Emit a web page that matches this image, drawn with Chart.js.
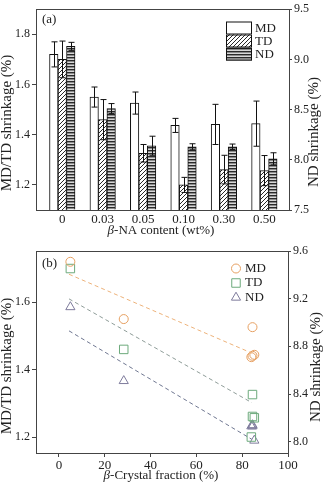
<!DOCTYPE html>
<html><head><meta charset="utf-8">
<script src="https://cdn.jsdelivr.net/npm/chart.js@4.4.1/dist/chart.umd.min.js"></script>
<style>
html,body{margin:0;padding:0;background:#fff;width:324px;height:484px;overflow:hidden}
canvas{position:absolute;left:0}
#ca{top:0}#cb{top:240px}
</style></head>
<body>
<canvas id="ca" width="324" height="240"></canvas>
<canvas id="cb" width="324" height="244"></canvas>
<script>
// ---------- data ----------
const naLabels = ['0', '0.03', '0.05', '0.10', '0.30', '0.50'];
const mdShrink = [1.72, 1.55, 1.526, 1.437, 1.441, 1.444];
const mdErr    = [0.05, 0.04, 0.044, 0.028, 0.08, 0.09];
const tdShrink = [1.70, 1.46, 1.326, 1.20, 1.261, 1.257];
const tdErr    = [0.073, 0.08, 0.035, 0.03, 0.057, 0.06];
const ndShrink = [9.13, 8.51, 8.14, 8.13, 8.13, 8.01];
const ndErr    = [0.04, 0.05, 0.095, 0.03, 0.027, 0.06];
const betaFrac = [5, 28.3, 84.5, 84, 84.5, 85.3];
const fitX  = [4.4, 84.2];
const mdFit = [1.683, 1.449];
const tdFit = [1.61, 1.302];
const ndFit = [8.93, 8.02];
const yTicksA  = [1.2, 1.4, 1.6, 1.8];
const y1TicksA = [7.5, 8.0, 8.5, 9.0, 9.5];
const xTicksB  = [0, 20, 40, 60, 80, 100];
const yTicksB  = [1.2, 1.4, 1.6];
const y1TicksB = [8.0, 8.4, 8.8, 9.2, 9.6];
const seriesNames = ['MD', 'TD', 'ND'];

// ---------- styles ----------
const SERIF = '"Liberation Serif", "Times New Roman", serif';
const INK = '#222';
const AX = '#444';
const ptColors = ['#E6A062', '#6DAA7C', '#7E7B9C'];
const fitColors = ['#EDB27A', '#8E9C98', '#6E7690'];

function makeHatch() {
  const c = document.createElement('canvas'); c.width = 4; c.height = 4;
  const x = c.getContext('2d');
  x.fillStyle = '#fff'; x.fillRect(0, 0, 4, 4);
  x.strokeStyle = '#111'; x.lineWidth = 0.9;
  x.beginPath();
  x.moveTo(0, 4); x.lineTo(4, 0);
  x.moveTo(-1, 1); x.lineTo(1, -1);
  x.moveTo(3, 5); x.lineTo(5, 3);
  x.stroke();
  return x.createPattern(c, 'repeat');
}
function makeStripes() {
  const c = document.createElement('canvas'); c.width = 4; c.height = 3;
  const x = c.getContext('2d');
  x.fillStyle = '#2a2a2a'; x.fillRect(0, 0, 4, 1);
  x.fillStyle = '#8c8c8c'; x.fillRect(0, 1, 4, 1);
  x.fillStyle = '#d8d8d8'; x.fillRect(0, 2, 4, 1);
  return x.createPattern(c, 'repeat');
}
const hatch = makeHatch();
const stripes = makeStripes();
const barFills = ['#ffffff', hatch, stripes];

function drawMixed(ctx, parts, cx, cy, size) {
  let total = 0;
  const widths = parts.map(([t, st]) => { ctx.font = st + ' ' + size + 'px ' + SERIF; const w = ctx.measureText(t).width; total += w; return w; });
  let x = cx - total / 2;
  ctx.textBaseline = 'middle'; ctx.textAlign = 'left';
  parts.forEach(([t, st], i) => { ctx.font = st + ' ' + size + 'px ' + SERIF; ctx.fillText(t, x, cy); x += widths[i]; });
}
function drawRot(ctx, text, cx, cy, size) {
  ctx.save();
  ctx.translate(cx, cy); ctx.rotate(-Math.PI / 2);
  ctx.font = size + 'px ' + SERIF; ctx.textAlign = 'center'; ctx.textBaseline = 'middle';
  ctx.fillText(text, 0, 0);
  ctx.restore();
}
function setTicks(arr) { return (s) => { s.ticks = arr.map(v => ({ value: v })); }; }

// ---------- panel (a) ----------
const errArrays = [mdErr, tdErr, ndErr];
const errorBars = {
  id: 'errorBars',
  afterDatasetsDraw(chart) {
    const ctx = chart.ctx;
    ctx.save();
    ctx.strokeStyle = '#111'; ctx.lineWidth = 1;
    chart.data.datasets.forEach((ds, di) => {
      const meta = chart.getDatasetMeta(di);
      const sc = chart.scales[ds.yAxisID];
      meta.data.forEach((bar, j) => {
        const v = ds.data[j].y, e = errArrays[di][j];
        const x = Math.round(bar.x) + 0.5;
        const yt = sc.getPixelForValue(v + e), yb = sc.getPixelForValue(v - e);
        ctx.beginPath();
        ctx.moveTo(x, yt); ctx.lineTo(x, yb);
        ctx.moveTo(x - 3, yt); ctx.lineTo(x + 3, yt);
        ctx.moveTo(x - 3, yb); ctx.lineTo(x + 3, yb);
        ctx.stroke();
      });
    });
    ctx.restore();
  }
};
const decorA = {
  id: 'decorA',
  afterDraw(chart) {
    const ctx = chart.ctx, a = chart.chartArea;
    ctx.save();
    ctx.strokeStyle = AX; ctx.lineWidth = 1;
    ctx.strokeRect(Math.round(a.left) + 0.5, Math.round(a.top) + 0.5, Math.round(a.right - a.left), Math.round(a.bottom - a.top));
    ctx.fillStyle = INK;
    ctx.font = '13px ' + SERIF; ctx.textAlign = 'left'; ctx.textBaseline = 'middle';
    ctx.fillText('(a)', 42, 20);
    // legend
    seriesNames.forEach((n, i) => {
      const y = 21.5 + i * 13;
      ctx.fillStyle = barFills[i];
      ctx.fillRect(226, y, 26, 13);
      ctx.strokeStyle = '#111';
      ctx.strokeRect(226.5, y + 0.5, 25, 12);
      ctx.fillStyle = INK;
      ctx.font = '13px ' + SERIF;
      ctx.fillText(n, 255, y + 7);
    });
    drawMixed(ctx, [['β', 'italic'], ['-NA content (wt%)', 'normal']], 161, 231, 13);
    drawRot(ctx, 'MD/TD shrinkage (%)', 7, 123, 15);
    drawRot(ctx, 'ND shrinkage (%)', 314, 132, 15);
    ctx.restore();
  }
};

const tickFont = { family: SERIF, size: 12 };
new Chart(document.getElementById('ca'), {
  type: 'bar',
  data: {
    datasets: [
      { label: 'MD', data: mdShrink.map((v, i) => ({ x: i, y: v })), yAxisID: 'y', base: 1.1, backgroundColor: barFills[0] },
      { label: 'TD', data: tdShrink.map((v, i) => ({ x: i, y: v })), yAxisID: 'y', base: 1.1, backgroundColor: barFills[1] },
      { label: 'ND', data: ndShrink.map((v, i) => ({ x: i, y: v })), yAxisID: 'y1', base: 7.5, backgroundColor: barFills[2] }
    ]
  },
  options: {
    responsive: false, animation: false, devicePixelRatio: 1,
    layout: { padding: { top: 6, left: 0, right: 0, bottom: 0 } },
    datasets: { bar: { barThickness: 8.5, borderColor: '#111', borderWidth: 1, borderSkipped: 'start' } },
    plugins: { legend: { display: false }, tooltip: { enabled: false } },
    scales: {
      x: {
        type: 'linear', min: -0.65, max: 5.61, offset: false,
        afterBuildTicks: s => { s.ticks = naLabels.map((_, i) => ({ value: i })); },
        afterFit: s => { s.height = 30; },
        ticks: { callback: v => naLabels[v], font: { family: SERIF, size: 13 }, color: INK, padding: 2, maxRotation: 0, autoSkip: false },
        grid: { display: true, drawOnChartArea: false, drawTicks: false, offset: false },
        border: { color: AX }
      },
      y: {
        position: 'left', min: 1.1, max: 1.9,
        afterBuildTicks: setTicks(yTicksA),
        afterFit: s => { s.width = 36; },
        ticks: { callback: v => v.toFixed(1), font: tickFont, color: INK, padding: 2 },
        grid: { drawOnChartArea: false, tickLength: 4, color: AX },
        border: { color: AX }
      },
      y1: {
        position: 'right', min: 7.5, max: 9.5,
        afterBuildTicks: setTicks(y1TicksA),
        afterFit: s => { s.width = 35; },
        ticks: { callback: v => v.toFixed(1), font: tickFont, color: INK, padding: 2 },
        grid: { drawOnChartArea: false, tickLength: 3, color: AX },
        border: { color: AX }
      }
    }
  },
  plugins: [errorBars, decorA]
});

// ---------- panel (b) ----------
const pStyles = ['circle', 'rect', 'triangle'];
const pRadius = [4.5, 6, 5.3];
const decorB = {
  id: 'decorB',
  afterDraw(chart) {
    const ctx = chart.ctx, a = chart.chartArea;
    ctx.save();
    ctx.strokeStyle = AX; ctx.lineWidth = 1;
    ctx.strokeRect(Math.round(a.left) + 0.5, Math.round(a.top) + 0.5, Math.round(a.right - a.left), Math.round(a.bottom - a.top));
    ctx.fillStyle = INK;
    ctx.font = '13px ' + SERIF; ctx.textAlign = 'left'; ctx.textBaseline = 'middle';
    ctx.fillText('(b)', 42, 24);
    seriesNames.forEach((n, i) => {
      const y = 28.5 + i * 14.5;
      ctx.strokeStyle = ptColors[i]; ctx.fillStyle = 'rgba(0,0,0,0)'; ctx.lineWidth = 1;
      Chart.helpers.drawPoint(ctx, { pointStyle: pStyles[i], radius: pRadius[i], borderWidth: 1 }, 236, y);
      ctx.fillStyle = INK; ctx.font = '13px ' + SERIF; ctx.textAlign = 'left'; ctx.textBaseline = 'middle';
      ctx.fillText(n, 245, y);
    });
    drawMixed(ctx, [['β', 'italic'], ['-Crystal fraction (%)', 'normal']], 161, 236, 13);
    drawRot(ctx, 'MD/TD shrinkage (%)', 7, 126, 15);
    drawRot(ctx, 'ND shrinkage (%)', 316, 127, 15);
    ctx.restore();
  }
};
const seriesB = [mdShrink, tdShrink, ndShrink];
const fitsB = [mdFit, tdFit, ndFit];
const axesB = ['y', 'y', 'y1'];
const dsB = [];
fitsB.forEach((f, i) => dsB.push({
  label: seriesNames[i] + ' fit', yAxisID: axesB[i], showLine: true,
  data: fitX.map((x, k) => ({ x, y: f[k] })),
  borderColor: fitColors[i], borderWidth: 1, borderDash: [4, 3], pointRadius: 0, fill: false
}));
seriesB.forEach((s, i) => dsB.push({
  label: seriesNames[i], yAxisID: axesB[i], showLine: false,
  data: s.map((v, k) => ({ x: betaFrac[k], y: v })),
  pointStyle: pStyles[i], pointRadius: pRadius[i], pointBorderWidth: 1,
  borderColor: ptColors[i], backgroundColor: 'rgba(0,0,0,0)'
}));
new Chart(document.getElementById('cb'), {
  type: 'scatter',
  data: { datasets: dsB },
  options: {
    responsive: false, animation: false, devicePixelRatio: 1,
    layout: { padding: { top: 11, left: 0, right: 0, bottom: 0 } },
    plugins: { legend: { display: false }, tooltip: { enabled: false } },
    scales: {
      x: {
        type: 'linear', min: -10, max: 100,
        afterBuildTicks: setTicks(xTicksB),
        afterFit: s => { s.height = 31; },
        ticks: { font: { family: SERIF, size: 13 }, color: INK, padding: 1, maxRotation: 0 },
        grid: { drawOnChartArea: false, tickLength: 4, color: AX },
        border: { color: AX }
      },
      y: {
        position: 'left', min: 1.1526, max: 1.752,
        afterBuildTicks: setTicks(yTicksB),
        afterFit: s => { s.width = 36; },
        ticks: { callback: v => v.toFixed(1), font: tickFont, color: INK, padding: 2 },
        grid: { drawOnChartArea: false, tickLength: 4, color: AX },
        border: { color: AX }
      },
      y1: {
        position: 'right', min: 7.905, max: 9.6,
        afterBuildTicks: setTicks(y1TicksB),
        afterFit: s => { s.width = 36; },
        ticks: { callback: v => v.toFixed(1), font: tickFont, color: INK, padding: 2 },
        grid: { drawOnChartArea: false, tickLength: 3, color: AX },
        border: { color: AX }
      }
    }
  },
  plugins: [decorB]
});
</script>
</body></html>
